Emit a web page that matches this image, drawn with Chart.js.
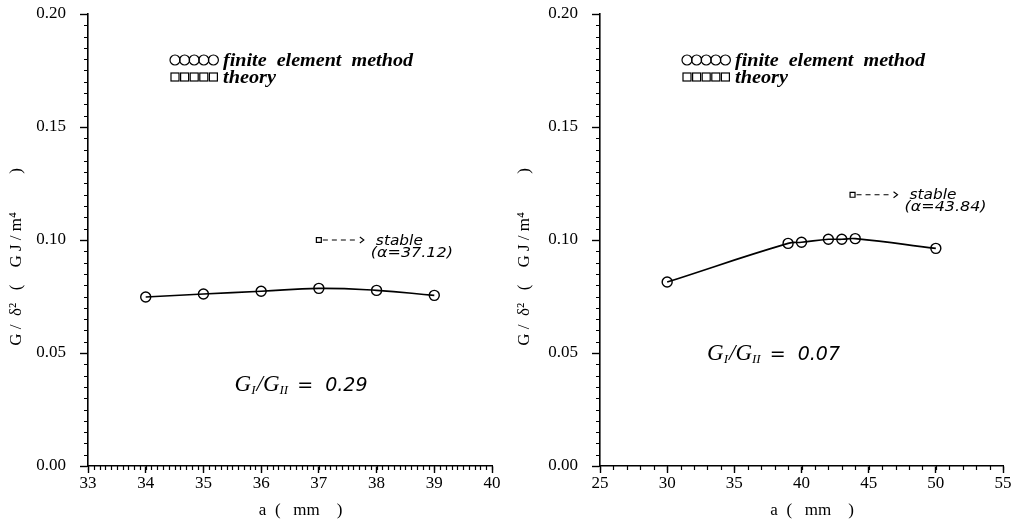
<!DOCTYPE html>
<html>
<head>
<meta charset="utf-8">
<script src="https://cdn.jsdelivr.net/npm/chart.js@4.4.1/dist/chart.umd.min.js"></script>
<style>
  body { margin: 0; background: #fff; }
  .panel { position: absolute; top: 0; width: 508px; height: 529px; }
</style>
</head>
<body>
<div class="panel" style="left:0"><canvas id="leftChart" width="508" height="529"></canvas></div>
<div class="panel" style="left:508px"><canvas id="rightChart" width="508" height="529"></canvas></div>
<script>
// left panel: G_I/G_II = 0.29
const leftCrack = [34, 35, 36, 37, 38, 39];
const leftG = [0.0748, 0.0761, 0.0773, 0.0786, 0.0777, 0.0755];
const leftStable = [37.0, 0.100];
const leftStableLabel = "(α=37.12)";
const leftRatio = "0.29";

// right panel: G_I/G_II = 0.07
const rightCrack = [30, 39, 40, 42, 43, 44, 50];
const rightG = [0.0814, 0.0985, 0.0990, 0.1003, 0.1003, 0.1006, 0.0963];
const rightStable = [43.8, 0.120];
const rightStableLabel = "(α=43.84)";
const rightRatio = "0.07";

// axes
const leftXTicks = [33, 34, 35, 36, 37, 38, 39, 40];
const rightXTicks = [25, 30, 35, 40, 45, 50, 55];
const yTicks = [0.00, 0.05, 0.10, 0.15, 0.20];

const legendLabels = ["finite  element  method", "theory"];

// fit a string to a given pixel width
function fitText(ctx, text, x, y, width) {
    const w = ctx.measureText(text).width;
    ctx.save();
    ctx.translate(x, y);
    ctx.scale(width / w, 1);
    ctx.fillText(text, 0, 0);
    ctx.restore();
}

const extras = {
    id: "extras",
    afterDraw(chart, args, opts) {
        const ctx = chart.ctx;
        const xs = chart.scales.x, ys = chart.scales.y;
        const area = chart.chartArea;
        ctx.save();
        ctx.strokeStyle = "#000";
        ctx.fillStyle = "#000";
        ctx.lineWidth = 1.2;

        // minor ticks
        ctx.beginPath();
        for (let v = xs.min; v <= xs.max + 1e-9; v += opts.xMinor) {
            const px = Math.round(xs.getPixelForValue(v)) + 0.5;
            ctx.moveTo(px, area.bottom);
            ctx.lineTo(px, area.bottom + 4);
        }
        for (let v = ys.min; v <= ys.max + 1e-9; v += 0.005) {
            const py = Math.round(ys.getPixelForValue(v)) + 0.5;
            ctx.moveTo(area.left, py);
            ctx.lineTo(area.left - 4, py);
        }
        ctx.stroke();

        // legend
        const lx = area.left + 82;
        ctx.lineWidth = 1.2;
        for (let i = 0; i < 5; i++) {
            ctx.beginPath();
            ctx.arc(lx + 5 + i * 9.6, 60, 5, 0, Math.PI * 2);
            ctx.stroke();
            ctx.strokeRect(lx + 1 + i * 9.6, 73, 8, 8);
        }
        ctx.font = "italic bold 18px 'Liberation Serif'";
        ctx.textBaseline = "alphabetic";
        fitText(ctx, legendLabels[0], lx + 53, 66, 190);
        fitText(ctx, legendLabels[1], lx + 53, 83, 53);

        // stable arrow
        const st = chart.data.datasets[1].data[0];
        const sx = xs.getPixelForValue(st.x), sy = ys.getPixelForValue(st.y);
        ctx.lineWidth = 1.1;
        ctx.setLineDash([5, 4]);
        ctx.beginPath();
        ctx.moveTo(sx + 4, sy);
        ctx.lineTo(sx + 40, sy);
        ctx.stroke();
        ctx.setLineDash([]);
        ctx.beginPath();
        ctx.moveTo(sx + 41, sy - 3);
        ctx.lineTo(sx + 45, sy);
        ctx.lineTo(sx + 41, sy + 3);
        ctx.stroke();
        ctx.font = "italic 14px 'DejaVu Sans'";
        ctx.textBaseline = "middle";
        fitText(ctx, "stable", sx + 57, sy + 1, 47);
        fitText(ctx, opts.stableLabel, sx + 52, sy + 13, 82);

        // ratio label
        const rx = xs.getPixelForValue(opts.ratioAt[0]);
        const ry = ys.getPixelForValue(opts.ratioAt[1]) + 8;
        ctx.textBaseline = "alphabetic";
        ctx.font = "italic 23px 'Liberation Serif'";
        let x = rx;
        ctx.fillText("G", x, ry); x += ctx.measureText("G").width;
        ctx.font = "italic 13px 'Liberation Serif'";
        ctx.fillText("I", x, ry + 3); x += ctx.measureText("I").width + 1;
        ctx.font = "italic 23px 'Liberation Serif'";
        ctx.fillText("/G", x, ry); x += ctx.measureText("/G").width;
        ctx.font = "italic 13px 'Liberation Serif'";
        ctx.fillText("II", x, ry + 3); x += ctx.measureText("II").width + 9;
        ctx.font = "italic 19px 'DejaVu Sans'";
        ctx.fillText("=  " + opts.ratio, x, ry);
        ctx.restore();
    }
};

function makeChart(id, crack, g, stable, xTicks, xMinor, yWidth, padRight, stableLabel, ratio, ratioAt) {
    const tickFont = { family: "'Liberation Serif'", size: 17, lineHeight: 1.2 };
    const titleFont = { family: "'Liberation Serif'", size: 17 };
    return new Chart(document.getElementById(id), {
        type: "line",
        data: {
            datasets: [
                {
                    data: crack.map((a, i) => ({ x: a, y: g[i] })),
                    borderColor: "#000",
                    borderWidth: 1.6,
                    tension: 0.45,
                    pointStyle: "circle",
                    pointRadius: 5,
                    pointBorderWidth: 1.4,
                    pointBorderColor: "#000",
                    pointBackgroundColor: "rgba(0,0,0,0)",
                    fill: false,
                },
                {
                    data: [{ x: stable[0], y: stable[1] }],
                    showLine: false,
                    pointStyle: "rect",
                    pointRadius: 3.5,
                    pointBorderWidth: 1.2,
                    pointBorderColor: "#000",
                    pointBackgroundColor: "#fff",
                },
            ],
        },
        options: {
            responsive: false,
            animation: false,
            layout: { padding: { left: 0, right: padRight, top: 14, bottom: 0 } },
            plugins: {
                legend: { display: false },
                tooltip: { enabled: false },
                extras: { xMinor: xMinor, stableLabel: stableLabel, ratio: ratio, ratioAt: ratioAt },
            },
            scales: {
                x: {
                    type: "linear",
                    min: xTicks[0],
                    max: xTicks[xTicks.length - 1],
                    afterFit: (s) => { s.height = 63; },
                    afterBuildTicks: (s) => { s.ticks = xTicks.map((v) => ({ value: v })); },
                    ticks: { color: "#000", font: tickFont, padding: 0, maxRotation: 0, autoSkip: false },
                    grid: { drawOnChartArea: false, drawTicks: true, tickLength: 7, tickColor: "#000", tickWidth: 1.4 },
                    border: { display: true, color: "#000", width: 1.6 },
                    title: { display: true, text: "     a  (   mm    )", color: "#000", font: titleFont, padding: { top: 0, bottom: 8 } },
                },
                y: {
                    min: 0,
                    max: 0.2,
                    afterFit: (s) => { s.width = yWidth; s.paddingTop = 0; s.paddingBottom = 0; },
                    afterBuildTicks: (s) => { s.ticks = yTicks.map((v) => ({ value: v })); },
                    ticks: { color: "#000", font: tickFont, padding: 14, callback: (v) => v.toFixed(2) },
                    grid: { drawOnChartArea: false, drawTicks: true, tickLength: 8, tickColor: "#000", tickWidth: 1.4 },
                    border: { display: true, color: "#000", width: 1.6 },
                    title: { display: true, text: "G /  δ²   (    G J / m⁴         )        ", color: "#000", font: titleFont, padding: { top: 6, bottom: 0 } },
                },
            },
        },
        plugins: [extras],
    });
}

makeChart("leftChart", leftCrack, leftG, leftStable, leftXTicks, 0.1, 88, 16, leftStableLabel, leftRatio, [35.54, 0.0367]);
makeChart("rightChart", rightCrack, rightG, rightStable, rightXTicks, 1, 92, 13, rightStableLabel, rightRatio, [32.97, 0.0505]);
</script>
</body>
</html>
